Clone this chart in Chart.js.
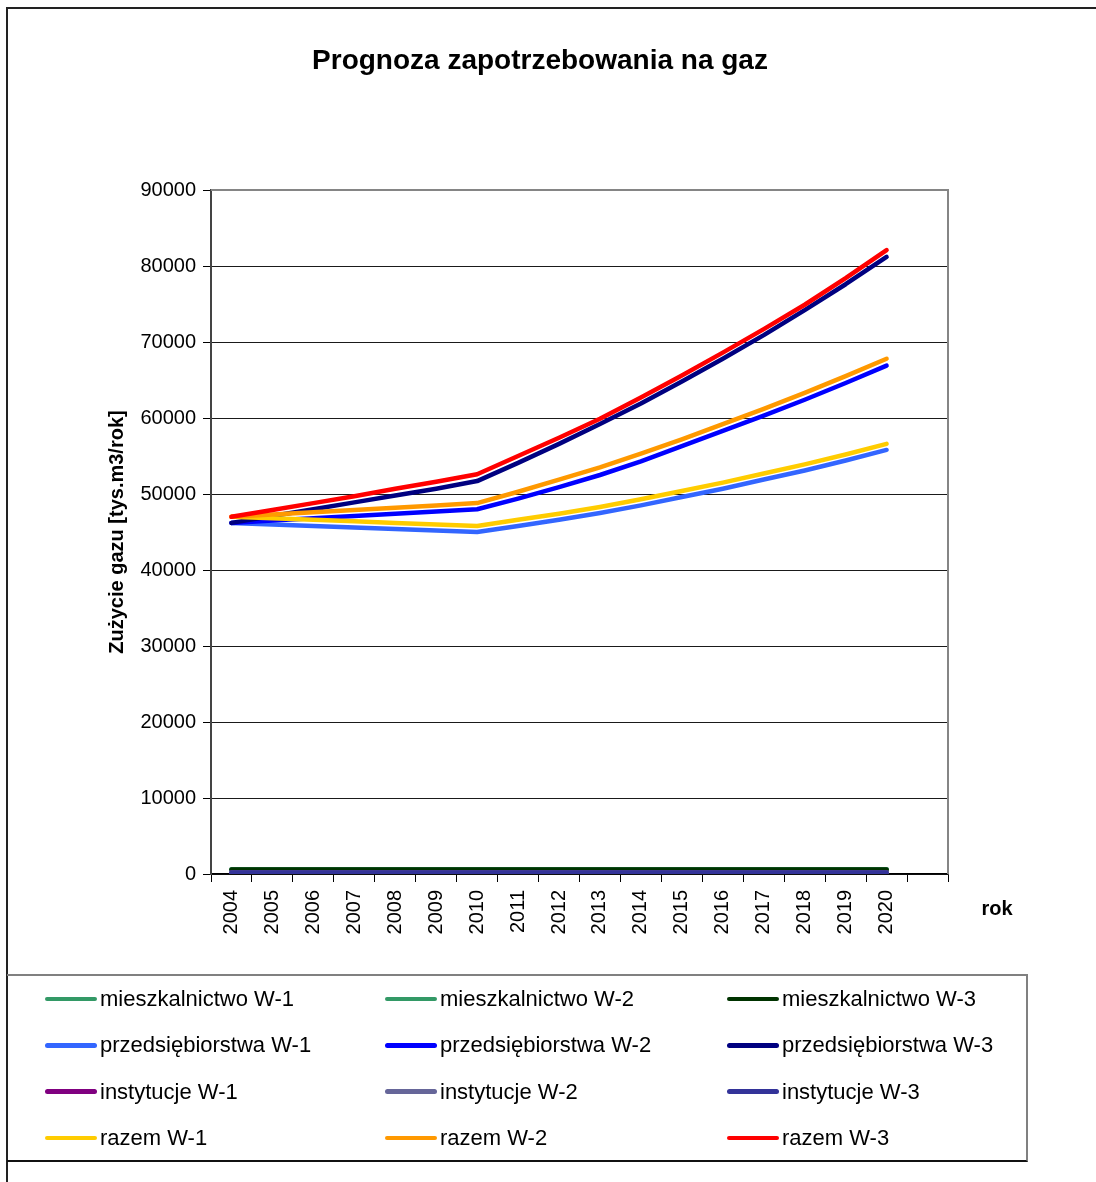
<!DOCTYPE html>
<html lang="pl">
<head>
<meta charset="utf-8">
<title>Prognoza zapotrzebowania na gaz</title>
<script src="https://cdn.jsdelivr.net/npm/chart.js@4/dist/chart.umd.min.js"></script>
<style>
    html, body { margin: 0; padding: 0; background: #fff; }
    body {
        width: 1096px; height: 1182px; position: relative; overflow: hidden;
        font-family: "Liberation Sans", Arial, sans-serif; color: #000;
    }
    #frame {
        position: absolute; left: 6px; top: 7px; right: -10px; bottom: -10px;
        border-left: 2px solid #222; border-top: 2px solid #222;
    }
    #chart { position: absolute; left: 0; top: 0; }
    #legend {
        position: absolute; left: 7px; top: 974px; width: 1021px; height: 188px;
        border-top: 2px solid #808080; border-right: 2px solid #808080; border-bottom: 2px solid #111;
        display: grid; grid-template-columns: 340px 342px 300px; grid-auto-rows: 46.3px;
        padding-left: 38px; box-sizing: border-box;
    }
    .item { display: flex; align-items: center; font-size: 22px; white-space: nowrap; }
    .swatch { width: 52px; height: 4.5px; border-radius: 3px; margin-right: 3px; }
</style>
</head>
<body>
<div id="frame"></div>
<canvas id="chart" width="1096" height="1182"></canvas>
<div id="legend"></div>
<script>
const FONT = '"Liberation Sans", Arial, sans-serif';

// lata prognozy (ostatnia kategoria pusta)
const years = ['2004', '2005', '2006', '2007', '2008', '2009', '2010', '2011', '2012',
    '2013', '2014', '2015', '2016', '2017', '2018', '2019', '2020', ''];

const yTicks = [0, 10000, 20000, 30000, 40000, 50000, 60000, 70000, 80000, 90000];

// zużycie gazu [tys.m3/rok]
const mieszkalnictwoW1 = [600, 600, 600, 600, 600, 600, 600, 600, 600, 600, 600, 600, 600, 600, 600, 600, 600];
const mieszkalnictwoW2 = [600, 600, 600, 600, 600, 600, 600, 600, 600, 600, 600, 600, 600, 600, 600, 600, 600];
const mieszkalnictwoW3 = [600, 600, 600, 600, 600, 600, 600, 600, 600, 600, 600, 600, 600, 600, 600, 600, 600];
const przedsiebiorstwaW1 = [46200, 46000, 45800, 45600, 45400, 45200, 45000, 45800, 46600, 47500, 48500, 49600, 50700, 51900, 53100, 54400, 55800];
const przedsiebiorstwaW2 = [46200, 46500, 46800, 47100, 47400, 47700, 48000, 49400, 50900, 52500, 54300, 56300, 58300, 60300, 62400, 64600, 66900];
const przedsiebiorstwaW3 = [46200, 47100, 48000, 48900, 49800, 50700, 51700, 54100, 56600, 59200, 61900, 64800, 67800, 70900, 74200, 77600, 81200];
const instytucjeW1 = [200, 200, 200, 200, 200, 200, 200, 200, 200, 200, 200, 200, 200, 200, 200, 200, 200];
const instytucjeW2 = [200, 200, 200, 200, 200, 200, 200, 200, 200, 200, 200, 200, 200, 200, 200, 200, 200];
const instytucjeW3 = [200, 200, 200, 200, 200, 200, 200, 200, 200, 200, 200, 200, 200, 200, 200, 200, 200];
const razemW1 = [47000, 46800, 46600, 46400, 46200, 46000, 45800, 46600, 47400, 48300, 49300, 50400, 51500, 52700, 53900, 55200, 56600];
const razemW2 = [47000, 47300, 47600, 47900, 48200, 48500, 48800, 50300, 51900, 53500, 55300, 57200, 59200, 61200, 63300, 65500, 67800];
const razemW3 = [47000, 47900, 48800, 49700, 50700, 51600, 52600, 55000, 57400, 59900, 62700, 65600, 68600, 71700, 74900, 78400, 82100];

const series = [
    ['mieszkalnictwo W-1', mieszkalnictwoW1, '#339966'],
    ['mieszkalnictwo W-2', mieszkalnictwoW2, '#339966'],
    ['mieszkalnictwo W-3', mieszkalnictwoW3, '#003300'],
    ['przedsiębiorstwa W-1', przedsiebiorstwaW1, '#3366ff'],
    ['przedsiębiorstwa W-2', przedsiebiorstwaW2, '#0000ff'],
    ['przedsiębiorstwa W-3', przedsiebiorstwaW3, '#000080'],
    ['instytucje W-1', instytucjeW1, '#800080'],
    ['instytucje W-2', instytucjeW2, '#666699'],
    ['instytucje W-3', instytucjeW3, '#333399'],
    ['razem W-1', razemW1, '#ffcc00'],
    ['razem W-2', razemW2, '#ff9900'],
    ['razem W-3', razemW3, '#ff0000'],
];

// later series are painted over earlier ones
const datasets = series.map(([label, data, color], i) => ({
    label, data,
    borderColor: color,
    backgroundColor: color,
    order: series.length - i,
}));

// title, axis name "rok" and grey plot frame
const extras = {
    id: 'extras',
    afterDraw(chart) {
        const { ctx, chartArea: a } = chart;
        ctx.save();
        ctx.strokeStyle = '#858585';
        ctx.lineWidth = 2;
        ctx.beginPath();
        ctx.moveTo(a.left, a.top);
        ctx.lineTo(a.right, a.top);
        ctx.lineTo(a.right, a.bottom);
        ctx.stroke();

        ctx.fillStyle = '#000';
        ctx.textAlign = 'center';
        ctx.textBaseline = 'middle';
        ctx.font = 'bold 28px ' + FONT;
        ctx.fillText('Prognoza zapotrzebowania na gaz', 540, 61);
        ctx.font = 'bold 20px ' + FONT;
        ctx.fillText('rok', a.right + 49, a.bottom + 35);
        ctx.restore();
    }
};

const chart = new Chart(document.getElementById('chart'), {
    type: 'line',
    data: { labels: years, datasets },
    options: {
        responsive: false,
        animation: false,
        layout: { padding: { left: 0, top: 190, right: 148, bottom: 228 } },
        plugins: { legend: { display: false }, tooltip: { enabled: false } },
        elements: {
            line: { borderWidth: 4.5, tension: 0, borderCapStyle: 'round', borderJoinStyle: 'round' },
            point: { radius: 0 }
        },
        scales: {
            x: {
                offset: true,
                grid: { offset: true, drawOnChartArea: false, tickLength: 8, color: '#000' },
                border: { color: '#000', width: 1.5 },
                ticks: {
                    autoSkip: false, maxRotation: 90, minRotation: 90, padding: 8,
                    color: '#000', font: { size: 20, family: FONT }
                },
                afterFit: s => { s.height = 80; }
            },
            y: {
                min: 0, max: 90000,
                afterBuildTicks: s => { s.ticks = yTicks.map(value => ({ value })); },
                ticks: {
                    padding: 7, color: '#000', font: { size: 20, family: FONT },
                    callback: v => String(v)
                },
                grid: { color: '#1a1a1a', tickLength: 8, tickColor: '#000' },
                border: { color: '#444', width: 2 },
                title: {
                    display: true, text: 'Zużycie gazu [tys.m3/rok]', color: '#000',
                    font: { size: 20, weight: 'bold', family: FONT },
                    padding: { top: 105, bottom: 0 }
                },
                afterFit: s => { s.width = 211; }
            }
        }
    },
    plugins: [extras]
});

// legend in three columns, row by row as the datasets go
const legend = document.getElementById('legend');
chart.data.datasets.forEach(ds => {
    const item = document.createElement('div');
    item.className = 'item';
    const sw = document.createElement('span');
    sw.className = 'swatch';
    sw.style.background = ds.borderColor;
    const txt = document.createElement('span');
    txt.textContent = ds.label;
    item.appendChild(sw);
    item.appendChild(txt);
    legend.appendChild(item);
});
</script>
</body>
</html>
